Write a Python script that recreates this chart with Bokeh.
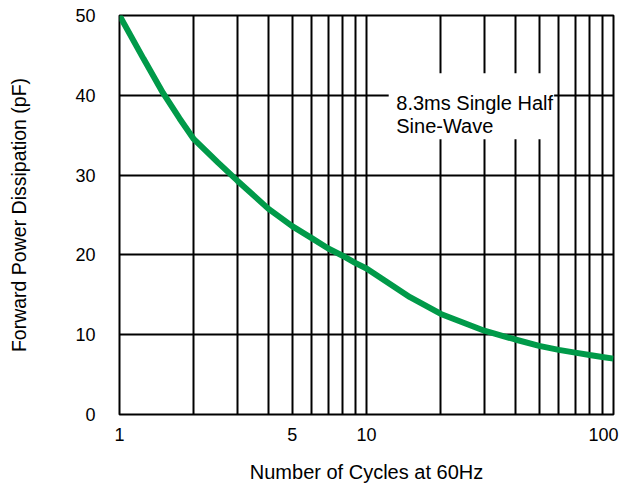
from bokeh.plotting import figure
from bokeh.models import FixedTicker, Label, BoxAnnotation
from bokeh.embed import file_html
from bokeh.resources import INLINE

# ---- data ----
cycles = [1, 1.25, 1.5, 1.75, 2, 2.5, 3, 4, 5, 6, 7, 8, 9, 10, 15, 20, 30, 40, 50, 60, 70, 80, 90, 100]
power = [50.0, 44.6, 40.3, 37.1, 34.5, 31.6, 29.3, 25.8, 23.6, 22.1, 20.8, 19.9, 19.0, 18.3, 14.7,
         12.6, 10.5, 9.4, 8.6, 8.1, 7.75, 7.45, 7.2, 7.0]

x_tick_values = [1, 5, 10, 100]
x_tick_labels = ["1", "5", "10", "100"]
x_grid_values = [1, 2, 3, 4, 5, 6, 7, 8, 9, 10, 20, 30, 40, 50, 60, 70, 80, 90, 100]
y_tick_values = [0, 10, 20, 30, 40, 50]

note_lines = ["8.3ms Single Half", "Sine-Wave"]
x_title = "Number of Cycles at 60Hz"
y_title = "Forward Power Dissipation (pF)"

FONT = "Liberation Sans"
GREEN = "#009A49"

p = figure(width=628, height=485, x_axis_type="log",
           x_range=(1, 100), y_range=(0, 50),
           output_backend="svg", toolbar_location=None,
           min_border_left=119, min_border_right=15,
           min_border_top=15, min_border_bottom=71)

p.background_fill_color = "white"
p.border_fill_color = "white"
p.outline_line_color = "black"
p.outline_line_width = 2

# grid
p.xgrid.ticker = FixedTicker(ticks=x_grid_values)
p.ygrid.ticker = FixedTicker(ticks=y_tick_values)
for g in (p.xgrid, p.ygrid):
    g.grid_line_color = "black"
    g.grid_line_width = 2
    g.grid_line_alpha = 1.0

# axes
p.xaxis.ticker = FixedTicker(ticks=x_tick_values)
overrides = {v: t for v, t in zip(x_tick_values, x_tick_labels)}
# keep the last label inside the page: pad it on the right with no-break spaces
overrides[x_tick_values[-1]] = x_tick_labels[-1] + "\u00a0" * 2
p.xaxis.major_label_overrides = overrides
p.yaxis.ticker = FixedTicker(ticks=y_tick_values)

for ax in (p.xaxis, p.yaxis):
    ax.axis_line_color = None
    ax.major_tick_line_color = None
    ax.minor_tick_line_color = None
    ax.major_tick_out = 0
    ax.major_tick_in = 0
    ax.major_label_text_font = FONT
    ax.major_label_text_font_size = "18px"
    ax.major_label_text_color = "black"
    ax.major_label_text_line_height = 1.0
    ax.axis_label_text_font = FONT
    ax.axis_label_text_font_style = "normal"
    ax.axis_label_text_color = "black"
    ax.axis_label_text_line_height = 1.0

p.xaxis.axis_label_text_font_size = "20px"
p.yaxis.axis_label_text_font_size = "19.5px"

p.xaxis.axis_label = x_title
p.yaxis.axis_label = y_title
p.xaxis.major_label_standoff = 10
p.yaxis.major_label_standoff = 24
p.xaxis.axis_label_standoff = 13
p.yaxis.axis_label_standoff = 42

# curve
p.line(cycles, power, line_color=GREEN, line_width=6)

# white box behind the note
p.add_layout(BoxAnnotation(left=12.3, right=57.5, bottom=34.5, top=42.75,
                           fill_color="white", fill_alpha=1.0, line_color=None))
p.add_layout(Label(x=13.2, y=39.0, text=note_lines[0], text_baseline="alphabetic",
                   text_font=FONT, text_font_size="20px", text_color="black"))
p.add_layout(Label(x=13.2, y=36.1, text=note_lines[1], text_baseline="alphabetic",
                   text_font=FONT, text_font_size="20px", text_color="black"))

open("out.html", "w").write(file_html(p, INLINE))
